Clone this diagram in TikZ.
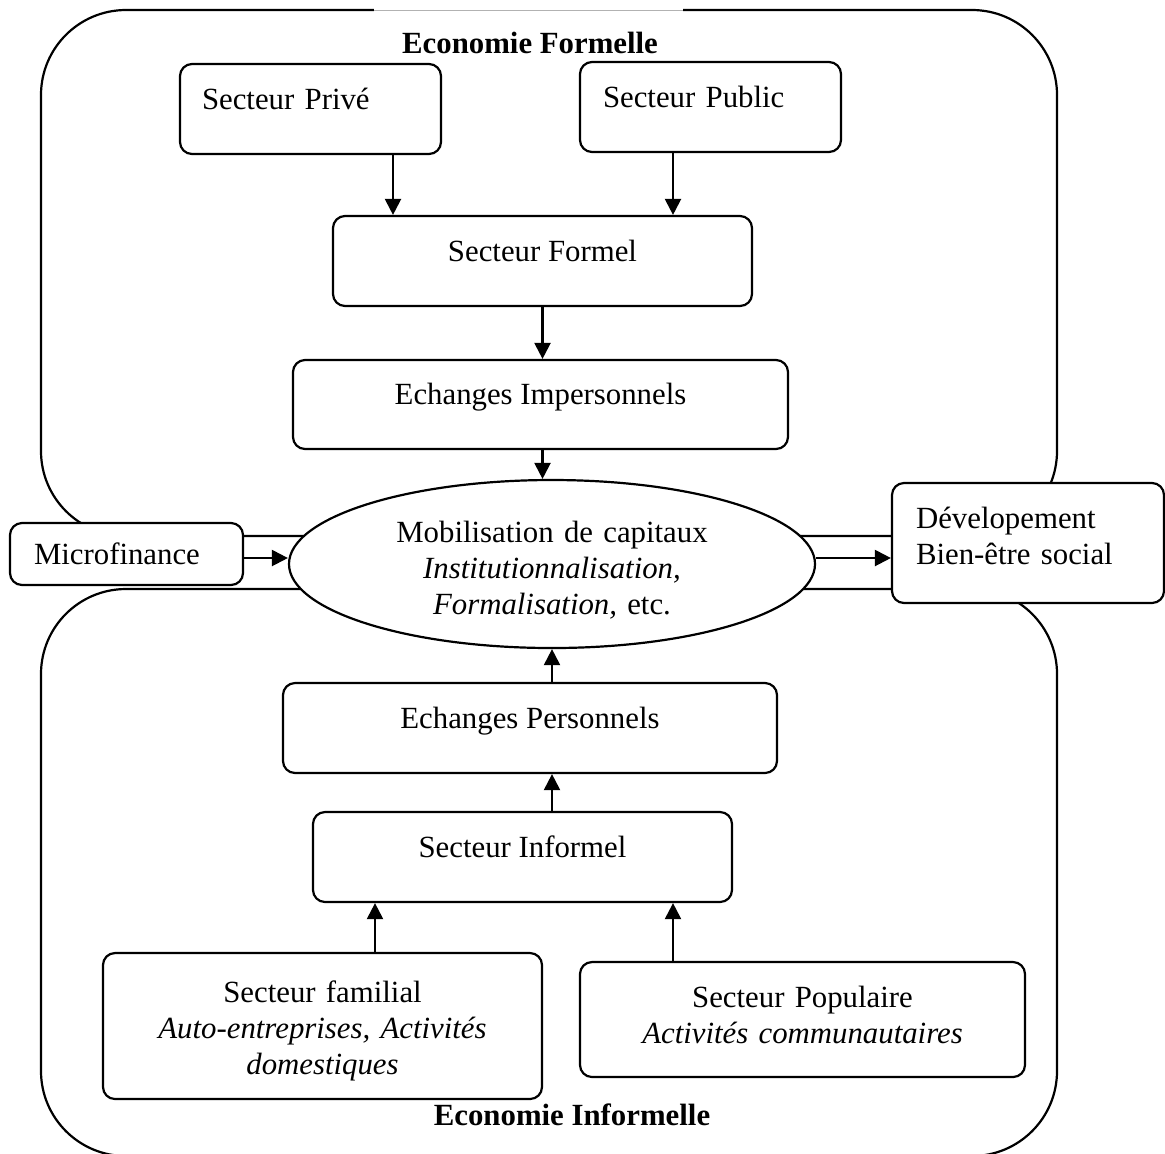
\documentclass[tikz,border=0pt]{standalone}
\usepackage{fontspec}
\setmainfont{Liberation Serif}
\usetikzlibrary{shapes.geometric,arrows.meta}

\newcommand{\taille}{\fontsize{15.4}{18}\selectfont}

\tikzset{
  boite/.style={draw, fill=white, rounded corners=6pt, line width=1.1pt, inner sep=0pt},
  haut/.style={text height=11pt, text depth=11pt},
  zone/.style={line width=1.1pt, rounded corners=42.5pt},
  fleche/.style={line width=1.1pt, -{Triangle[length=8pt,width=8pt]}}
}

\begin{document}
\begin{tikzpicture}[x=0.5pt, y=-0.5pt, font=\taille]
  \useasboundingbox (0,0) rectangle (1165,1153);
  % les deux economies
  \draw[zone] (41,10) rectangle (1057,536);
  \draw[zone] (41,589) rectangle (1057,1156);
  \draw[white, line width=1.8pt] (374,10) -- (683,10);
  \draw[gray!60, line width=0.4pt] (374,10) -- (683,10);

  \node[font=\taille\bfseries] (titreF) at (530,43) {Economie Formelle};
  \node[boite, haut, align=left, text width=108.5pt, inner xsep=11pt, minimum height=45pt] (prive) at (310.5,109) {Secteur Privé};
  \node[boite, haut, align=left, text width=107.5pt, inner xsep=11.5pt, minimum height=45pt] (public) at (710.5,107) {Secteur Public};
  \node[boite, haut, minimum width=209.5pt, minimum height=45pt] (formel) at (542.5,261) {Secteur Formel};
  \node[boite, haut, minimum width=247.5pt, minimum height=44.5pt] (impers) at (540.5,404.5) {Echanges Impersonnels};

  \node[draw, ellipse, fill=white, line width=1.1pt, inner sep=0pt, minimum width=263pt, minimum height=84pt,
        align=center, text width=175pt, text height=11pt, text depth=33pt] (mob) at (552,564)
    {Mobilisation de capitaux\\ \textit{Institutionnalisation,}\\ \textit{Formalisation,} etc.};
  \node[boite, align=left, text width=92.5pt, inner xsep=12pt, minimum height=31pt] (micro) at (126.5,554) {Microfinance};
  \node[boite, align=left, text width=112pt, inner xsep=12pt, minimum height=60pt,
        text height=11pt, text depth=26pt] (devel) at (1028,543) {Dévelopement\\Bien-être social};

  \node[boite, haut, minimum width=247pt, minimum height=45pt] (perso) at (530,728) {Echanges Personnels};
  \node[boite, haut, minimum width=209.5pt, minimum height=45pt] (informel) at (522.5,857) {Secteur Informel};
  \node[boite, align=center, text width=200pt, minimum width=219.5pt, minimum height=73pt,
        text height=11pt, text depth=35pt] (familial) at (322.5,1026)
    {Secteur familial\\ \textit{Auto-entreprises, Activités}\\ \textit{domestiques}};
  \node[boite, align=center, text width=200pt, minimum width=222.5pt, minimum height=57.5pt,
        text height=11pt, text depth=23.5pt] (popul) at (802.5,1019.5)
    {Secteur Populaire\\ \textit{Activités communautaires}};
  \node[font=\taille\bfseries] (titreI) at (572,1115) {Economie Informelle};

  % fleches
  \coordinate (gauche) at (393,0);
  \coordinate (droite) at (673,0);
  \coordinate (bas) at (375,0);
  \coordinate (milieu) at (0,558);
  \draw[fleche] (prive.south -| gauche) -- (formel.north -| gauche);
  \draw[fleche] (public.south -| droite) -- (formel.north -| droite);
  \draw[fleche] (formel.south) -- (formel.south |- impers.north);
  \draw[fleche] (impers.south -| formel.south) -- (mob.north -| formel.south);
  \draw[fleche] (perso.north -| mob.south) -- (mob.south);
  \draw[fleche] (informel.north -| mob.south) -- (perso.south -| mob.south);
  \draw[fleche] (familial.north -| bas) -- (informel.south -| bas);
  \draw[fleche] (popul.north -| droite) -- (informel.south -| droite);
  \draw[fleche] (micro.east |- milieu) -- (mob.west |- milieu);
  \draw[fleche] (mob.east |- milieu) -- (devel.west |- milieu);
\end{tikzpicture}
\end{document}
